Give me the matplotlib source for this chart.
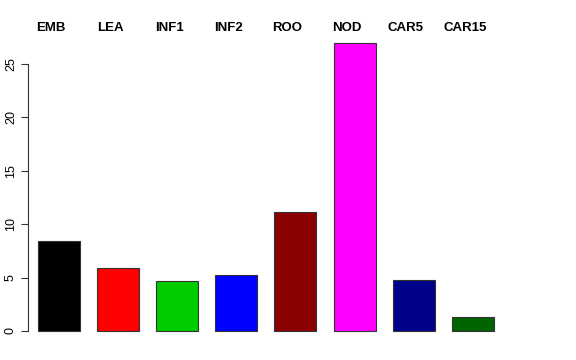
import matplotlib
matplotlib.use("Agg")
import matplotlib.pyplot as plt

# tissue abbreviations and bar heights
tissues = ['EMB', 'LEA', 'INF1', 'INF2', 'ROO', 'NOD', 'CAR5', 'CAR15']
values = [8.45, 5.9, 4.7, 5.25, 11.15, 27.0, 4.8, 1.3]
colors = ['black', 'red', '#00CD00', 'blue', '#8B0000', 'magenta', '#00008B', '#006400']
yticks = [0, 5, 10, 15, 20, 25]

plt.rcParams['font.family'] = ['Liberation Sans', 'DejaVu Sans']

fig = plt.figure(figsize=(5.76, 3.6), dpi=100)
W, H = 576, 360
# axes placed in pixel terms: left spine at x=28, y=0 at pixel 331
left_px, right_px = 28, 560
top_px, bot_px = 35, 335
ax = fig.add_axes([left_px / W, 1 - bot_px / H, (right_px - left_px) / W, (bot_px - top_px) / H])

step = 59.1
x0 = 59
xs = list(range(len(tissues)))
ax.bar(xs, values, width=42 / step, color=colors, edgecolor='#333333', linewidth=0.8)

ax.set_xlim((left_px - x0) / step, (right_px - x0) / step)
ppu = 10.68
ax.set_ylim((331 - bot_px) / ppu, (331 - top_px) / ppu)

for s in ['top', 'right', 'bottom']:
    ax.spines[s].set_visible(False)
ax.spines['left'].set_bounds(0, 25)
ax.spines['left'].set_color('#333333')
ax.set_xticks([])
ax.set_yticks(yticks)
ax.set_yticklabels([str(t) for t in yticks], rotation=90, va='center', fontsize=9)
ax.tick_params(axis='y', length=5, width=0.8, pad=3, color='#333333')

# tissue names across the top
for x, name in zip(xs, tissues):
    px = x0 + step * x - 8
    fig.text(px / W, 1 - 28 / H, name, ha='center', va='center',
             fontsize=9.5, fontweight='bold')

fig.savefig('out.png', dpi=100)
